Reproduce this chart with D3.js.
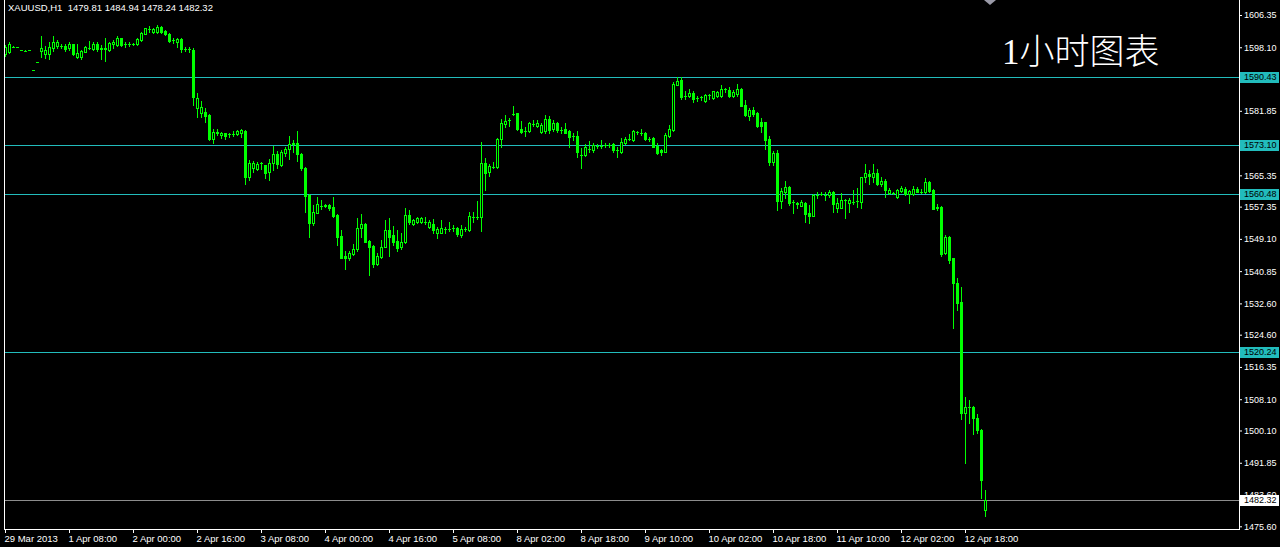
<!DOCTYPE html>
<html>
<head>
<meta charset="utf-8">
<script src="https://cdn.jsdelivr.net/npm/d3@7"></script>
<style>
  html, body { margin: 0; padding: 0; background: #000; }
  svg { display: block; }
</style>
</head>
<body>
<div id="chart"></div>
<script>
// ---------------- DATA ----------------
const symbolLabel = "XAUUSD,H1  1479.81 1484.94 1478.24 1482.32";
const chartTitle = "1小时图表";

const opens = [
1596.3,1596.8,1598.2,1598.1,1597.4,1597.2,1597.4,1592.3,1594.3,1597.2,
1596.5,1596.4,1597.8,1598.4,1598.5,1598.4,1597.8,1598.9,1595.6,1595.6,
1597.0,1597.9,1597.6,1599.0,1597.6,1597.8,1597.5,1598.9,1598.7,1600.4,
1598.9,1599.0,1599.0,1598.9,1600.0,1601.6,1602.8,1601.9,1601.9,1603.2,
1602.3,1601.4,1599.9,1599.5,1600.2,1597.6,1597.6,1597.4,1582.5,1581.3,
1581.6,1580.8,1574.7,1576.5,1575.6,1576.1,1575.8,1576.0,1575.8,1576.1,
1576.8,1565.0,1567.1,1566.9,1568.4,1567.9,1566.2,1568.4,1570.8,1567.9,
1571.0,1572.0,1573.3,1573.6,1570.8,1567.2,1560.4,1553.1,1555.8,1557.6,
1557.7,1557.8,1557.2,1555.2,1549.9,1544.6,1544.3,1545.3,1546.5,1551.8,
1552.9,1548.5,1547.3,1542.7,1544.4,1547.1,1551.4,1550.1,1548.5,1546.9,
1548.2,1555.2,1552.9,1553.3,1553.4,1553.4,1552.2,1552.8,1550.7,1550.7,
1551.7,1551.6,1551.8,1551.8,1550.2,1551.7,1551.4,1554.8,1554.7,1554.6,
1568.4,1566.2,1567.6,1567.4,1574.6,1578.5,1579.5,1581.0,1581.2,1577.3,
1576.8,1576.7,1578.6,1578.0,1576.5,1576.8,1579.7,1577.1,1578.8,1577.0,
1577.1,1576.7,1575.4,1575.4,1570.6,1570.6,1572.2,1571.8,1572.9,1572.9,
1573.0,1573.2,1573.4,1571.8,1571.4,1573.7,1574.7,1574.4,1576.4,1576.3,
1576.1,1574.7,1574.9,1572.9,1571.8,1571.4,1575.4,1577.0,1588.5,1589.7,
1585.6,1585.6,1586.3,1585.1,1585.3,1584.4,1585.8,1585.2,1585.7,1585.7,
1587.3,1587.1,1585.7,1586.1,1587.4,1583.4,1580.6,1582.1,1581.3,1578.9,
1578.9,1574.6,1568.7,1571.1,1558.8,1561.0,1562.4,1558.5,1558.3,1557.6,
1558.3,1555.6,1555.0,1560.4,1560.7,1560.4,1560.2,1561.2,1557.0,1557.0,
1559.1,1558.3,1558.6,1558.8,1558.6,1564.9,1565.8,1564.9,1566.0,1563.2,
1563.9,1560.9,1560.9,1559.7,1561.3,1561.9,1560.7,1560.5,1561.9,1561.2,
1561.0,1563.6,1561.6,1557.3,1557.2,1545.4,1549.7,1544.1,1537.9,1533.0,
1504.7,1506.1,1506.2,1503.4,1500.3,1479.81
];
const highs = [
1598.7,1599.4,1598.3,1598.2,1597.5,1597.3,1597.5,1592.4,1594.4,1601.0,
1598.5,1599.4,1601.0,1599.9,1599.0,1598.9,1599.5,1599.0,1598.9,1597.3,
1598.4,1599.7,1599.5,1599.5,1598.7,1600.5,1599.4,1600.0,1601.0,1600.5,
1599.4,1599.5,1599.2,1600.4,1601.9,1603.1,1603.5,1603.1,1603.8,1603.5,
1602.6,1601.7,1600.5,1600.5,1600.4,1598.2,1598.2,1597.8,1586.4,1584.4,
1582.6,1581.1,1577.1,1577.2,1576.5,1576.3,1576.1,1576.6,1577.0,1577.3,
1577.0,1569.3,1569.1,1568.8,1568.8,1568.1,1569.5,1572.9,1571.5,1571.8,
1572.7,1575.4,1574.4,1576.8,1571.0,1567.4,1560.6,1557.8,1559.8,1559.1,
1558.0,1558.1,1559.8,1555.5,1551.4,1545.9,1545.9,1547.8,1554.4,1555.5,
1553.1,1548.8,1547.5,1545.4,1548.8,1553.8,1554.4,1552.4,1551.4,1550.7,
1557.0,1556.5,1554.3,1554.8,1554.8,1554.8,1553.8,1554.3,1552.2,1553.8,
1552.2,1553.5,1552.7,1552.2,1552.7,1552.2,1556.1,1556.1,1558.7,1573.9,
1569.7,1568.3,1568.8,1574.8,1579.7,1580.9,1579.9,1583.1,1581.4,1579.3,
1577.6,1579.1,1579.5,1579.5,1578.7,1580.8,1580.4,1579.5,1579.1,1577.8,
1578.8,1577.0,1576.1,1576.7,1572.3,1573.4,1574.2,1573.7,1573.4,1574.4,
1573.6,1573.7,1573.7,1572.5,1574.8,1575.2,1575.9,1577.0,1576.8,1577.1,
1576.4,1575.2,1575.2,1573.7,1572.2,1576.3,1578.2,1589.1,1590.4,1590.4,
1587.0,1587.4,1586.8,1585.6,1585.6,1586.1,1586.2,1586.9,1586.9,1588.4,
1587.8,1587.9,1587.1,1588.6,1587.6,1584.5,1582.5,1582.8,1581.5,1579.9,
1579.1,1575.5,1571.6,1571.8,1562.2,1563.9,1562.6,1559.0,1558.6,1559.1,
1558.6,1557.8,1560.7,1561.0,1561.2,1561.0,1561.5,1561.4,1559.5,1560.8,
1559.3,1559.5,1561.5,1562.0,1565.0,1568.2,1566.7,1568.2,1567.0,1564.9,
1564.5,1562.0,1561.2,1561.9,1562.6,1562.3,1561.6,1562.5,1562.3,1561.8,
1564.6,1563.9,1561.8,1558.0,1557.4,1550.1,1549.9,1544.3,1539.1,1536.9,
1508.7,1507.9,1506.4,1504.4,1500.5,1484.94
];
const lows = [
1595.9,1596.6,1598.2,1598.1,1597.4,1597.2,1597.4,1592.3,1594.3,1595.5,
1595.4,1595.0,1597.2,1597.8,1598.0,1597.1,1597.5,1596.1,1595.4,1595.1,
1596.8,1597.7,1597.3,1597.2,1595.1,1594.6,1597.1,1597.8,1598.5,1598.5,
1598.2,1598.5,1598.8,1598.7,1599.7,1601.4,1602.1,1601.7,1601.7,1601.8,
1601.2,1599.5,1599.2,1598.2,1596.8,1597.1,1596.8,1583.3,1580.2,1580.3,
1579.0,1574.4,1573.7,1575.7,1574.9,1574.7,1575.2,1575.4,1575.6,1575.2,
1563.2,1564.2,1566.3,1566.6,1566.9,1564.7,1564.2,1566.7,1567.1,1567.8,
1570.3,1569.5,1571.3,1568.9,1566.7,1556.1,1549.7,1552.7,1555.7,1556.7,
1557.2,1556.5,1554.6,1547.6,1544.2,1541.4,1543.7,1544.9,1546.1,1549.7,
1548.2,1539.9,1542.0,1542.5,1544.2,1547.0,1544.8,1547.5,1545.9,1546.6,
1548.0,1552.9,1552.7,1553.1,1553.1,1552.9,1551.8,1550.6,1549.3,1550.6,
1550.7,1551.2,1551.0,1549.9,1549.7,1551.1,1551.2,1553.5,1554.2,1551.0,
1561.6,1565.2,1567.3,1567.2,1572.7,1577.6,1577.9,1580.7,1577.0,1576.1,
1575.4,1576.4,1578.0,1577.6,1576.1,1576.1,1576.3,1576.8,1576.5,1576.3,
1576.1,1572.5,1574.4,1570.1,1567.2,1570.3,1571.4,1571.2,1572.3,1572.3,
1572.5,1572.5,1571.4,1570.1,1571.0,1573.4,1574.4,1574.2,1575.9,1575.7,
1574.4,1574.2,1572.5,1570.8,1570.6,1571.2,1575.2,1576.8,1588.4,1584.8,
1584.8,1585.3,1584.2,1584.4,1584.6,1584.2,1584.9,1584.9,1585.4,1585.4,
1586.6,1585.4,1585.5,1585.7,1583.0,1580.6,1579.5,1580.6,1577.8,1576.5,
1572.1,1568.0,1567.9,1556.5,1557.1,1559.5,1557.8,1555.7,1556.9,1557.4,
1553.5,1553.1,1554.9,1559.6,1560.2,1559.1,1559.8,1556.1,1555.9,1556.9,
1554.5,1556.1,1558.1,1557.3,1557.1,1563.7,1563.1,1563.6,1562.9,1562.6,
1559.9,1560.7,1560.5,1559.6,1561.0,1560.3,1558.4,1560.3,1561.0,1560.8,
1560.8,1561.2,1556.7,1556.5,1544.7,1545.3,1542.9,1526.3,1531.0,1503.0,
1491.9,1502.0,1499.3,1499.4,1482.8,1478.24
];
const closes = [
1598.2,1598.9,1598.2,1598.1,1597.4,1597.2,1597.4,1592.3,1594.3,1597.8,
1597.5,1598.2,1599.4,1599.5,1598.5,1597.6,1599.0,1596.4,1596.6,1597.1,
1598.1,1598.0,1599.0,1597.6,1597.8,1597.7,1599.2,1599.5,1600.4,1598.7,
1598.9,1599.0,1599.0,1600.1,1601.7,1602.9,1602.8,1602.8,1603.2,1602.1,
1601.4,1599.8,1599.9,1600.2,1597.6,1597.6,1597.6,1585.3,1585.2,1582.8,
1580.6,1574.6,1576.4,1576.1,1576.3,1575.4,1575.8,1576.0,1576.6,1577.0,
1564.8,1568.6,1568.6,1568.3,1568.4,1566.0,1568.6,1570.8,1568.3,1571.3,
1572.1,1573.3,1573.6,1570.8,1567.2,1560.1,1553.1,1556.0,1558.0,1557.6,
1557.4,1557.0,1555.0,1549.5,1544.3,1544.2,1545.6,1546.6,1551.9,1552.9,
1548.4,1547.1,1542.7,1544.6,1547.1,1551.4,1549.7,1548.4,1546.8,1548.3,
1555.2,1553.3,1554.0,1554.5,1554.5,1553.4,1553.4,1551.4,1551.7,1551.9,
1551.7,1551.6,1551.8,1550.4,1551.7,1551.7,1555.0,1554.8,1554.7,1568.6,
1566.0,1567.8,1567.6,1574.6,1578.7,1579.3,1579.5,1581.0,1577.1,1576.5,
1576.8,1578.7,1578.6,1578.8,1578.2,1579.7,1577.0,1578.8,1577.0,1577.0,
1576.3,1575.2,1575.4,1571.4,1570.6,1572.7,1572.2,1573.1,1572.9,1572.9,
1573.0,1573.2,1571.8,1571.8,1573.9,1574.7,1574.7,1576.7,1576.4,1576.3,
1574.7,1574.7,1572.7,1571.0,1571.3,1575.7,1577.1,1588.7,1589.6,1585.5,
1585.6,1586.5,1584.8,1585.1,1585.3,1585.8,1585.8,1586.8,1586.6,1587.4,
1587.3,1585.7,1586.6,1587.3,1583.2,1580.8,1582.1,1581.0,1578.0,1578.0,
1574.4,1568.7,1571.1,1558.8,1561.4,1562.4,1558.4,1558.5,1558.0,1558.6,
1555.4,1555.0,1560.2,1560.4,1560.7,1560.4,1561.2,1558.1,1558.3,1559.1,
1559.1,1559.1,1558.6,1558.8,1564.9,1566.0,1565.1,1566.0,1563.2,1564.0,
1561.5,1561.7,1560.9,1561.6,1562.0,1560.7,1561.3,1561.9,1561.2,1561.2,
1563.7,1561.4,1556.8,1556.9,1545.2,1549.7,1543.7,1537.8,1532.8,1504.6,
1506.1,1506.1,1503.2,1500.1,1487.5,1482.32
];

const xTickIndex = [0,16,32,48,64,80,96,112,128,144,160,176,192,208,224,240];
const xTickLabels = ["29 Mar 2013","1 Apr 08:00","2 Apr 00:00","2 Apr 16:00","3 Apr 08:00",
  "4 Apr 00:00","4 Apr 16:00","5 Apr 08:00","8 Apr 02:00","8 Apr 18:00","9 Apr 10:00",
  "10 Apr 02:00","10 Apr 18:00","11 Apr 10:00","12 Apr 02:00","12 Apr 18:00"];
const yTickValues = [1606.35,1598.10,1581.85,1565.35,1557.35,1549.10,1540.85,1532.60,
  1524.60,1516.35,1508.10,1500.10,1491.85,1483.60,1475.60];
const levelLines = [1590.43,1573.10,1560.48,1520.24];
const lastPrice = 1482.32;

// ---------------- LAYOUT ----------------
const W = 1280, H = 547;
const left = 4, right = 1239, bottom = 529;
const LIME = "#00ff00", CYAN = "#22bcbc";
const AXIS_FONT = "'Liberation Sans', Arial, sans-serif";

const svg = d3.select("#chart").append("svg")
  .attr("width", W).attr("height", H)
  .style("background", "#000");

const x = d3.scaleLinear().domain([0, opens.length - 1]).range([5, 985]);
const y = d3.scaleLinear().domain([1475.60, 1606.35]).range([526.3, 15]);

svg.append("rect").attr("x",0).attr("y",0).attr("width",W).attr("height",H).attr("fill","#000");

// level lines
const lv = svg.append("g");
levelLines.forEach(v => {
  const yy = Math.round(y(v)) + 0.5;
  lv.append("line").attr("x1", left).attr("x2", right).attr("y1", yy).attr("y2", yy)
    .attr("stroke", CYAN).attr("stroke-width", 1);
});
{
  const yy = Math.round(y(lastPrice)) + 0.5;
  lv.append("line").attr("x1", left).attr("x2", right).attr("y1", yy).attr("y2", yy)
    .attr("stroke", "#8c8c8c").attr("stroke-width", 1);
}

// candles
const cg = svg.append("g");
const data = opens.map((o, i) => ({ i, o, h: highs[i], l: lows[i], c: closes[i] }));
data.forEach(d => {
  const cx = Math.round(x(d.i));
  const yh = Math.round(y(d.h)), yl = Math.round(y(d.l));
  const top = Math.round(y(Math.max(d.o, d.c))), bot = Math.round(y(Math.min(d.o, d.c)));
  cg.append("rect").attr("x", cx).attr("y", yh).attr("width", 1)
    .attr("height", Math.max(1, yl - yh + 1)).attr("fill", LIME);
  cg.append("rect").attr("x", cx - 1).attr("y", top).attr("width", 3)
    .attr("height", Math.max(1, bot - top + 1)).attr("fill", LIME);
  if (d.c > d.o && bot - top >= 2) {
    cg.append("rect").attr("x", cx).attr("y", top + 1).attr("width", 1)
      .attr("height", bot - top - 1).attr("fill", "#000");
  }
});

// frame
const fg = svg.append("g").attr("stroke", "#fff").attr("stroke-width", 1);
fg.append("line").attr("x1", left + 0.5).attr("x2", left + 0.5).attr("y1", 0).attr("y2", bottom + 1);
fg.append("line").attr("x1", right + 0.5).attr("x2", right + 0.5).attr("y1", 0).attr("y2", bottom + 1);
fg.append("line").attr("x1", left).attr("x2", right + 1).attr("y1", bottom + 0.5).attr("y2", bottom + 0.5);

// y axis
const yAxis = d3.axisRight(y).tickValues(yTickValues).tickSize(3).tickPadding(2)
  .tickFormat(d3.format(".2f"));
const yg = svg.append("g").attr("transform", `translate(${right},0)`).call(yAxis);
yg.select(".domain").remove();
yg.selectAll("line").attr("stroke", "#fff");
yg.selectAll("text").attr("fill", "#fff").style("font-family", AXIS_FONT)
  .style("font-size", "9px");

// x axis
const xAxis = d3.axisBottom(x).tickValues(xTickIndex).tickSize(4).tickPadding(2)
  .tickFormat((d, k) => xTickLabels[k]);
const xg = svg.append("g").attr("transform", `translate(0,${bottom})`).call(xAxis);
xg.select(".domain").remove();
xg.selectAll("line").attr("stroke", "#fff");
xg.selectAll("text").attr("fill", "#fff").attr("text-anchor", "start").attr("x", -1)
  .style("font-family", AXIS_FONT).style("font-size", "9.5px");

// level labels
const lb = svg.append("g").style("font-family", AXIS_FONT).style("font-size", "9px");
levelLines.forEach(v => {
  const yy = Math.round(y(v));
  lb.append("rect").attr("x", right + 1).attr("y", yy - 5).attr("width", 39).attr("height", 11).attr("fill", CYAN);
  lb.append("text").attr("x", right + 5).attr("y", yy).attr("dy", "0.35em").attr("fill", "#000").text(v.toFixed(2));
});
{
  const yy = Math.round(y(lastPrice));
  lb.append("rect").attr("x", right + 1).attr("y", yy - 5).attr("width", 39).attr("height", 11).attr("fill", "#fff");
  lb.append("text").attr("x", right + 5).attr("y", yy).attr("dy", "0.35em").attr("fill", "#000").text(lastPrice.toFixed(2));
}

// header
svg.append("text").attr("x", 8).attr("y", 11).attr("fill", "#fff")
  .style("font-family", AXIS_FONT).style("font-size", "9.5px")
  .style("white-space", "pre").text(symbolLabel);

// chart title
svg.append("text").attr("x", 1002).attr("y", 64).attr("fill", "#fff")
  .style("font-family", "'Liberation Serif', 'Noto Sans CJK SC', serif").style("font-size", "35px")
  .style("font-weight", "300").text(chartTitle);

// shift marker
svg.append("path").attr("d", "M984,0 L996,0 L990,5 Z").attr("fill", "#9a9aa8");
</script>
</body>
</html>
